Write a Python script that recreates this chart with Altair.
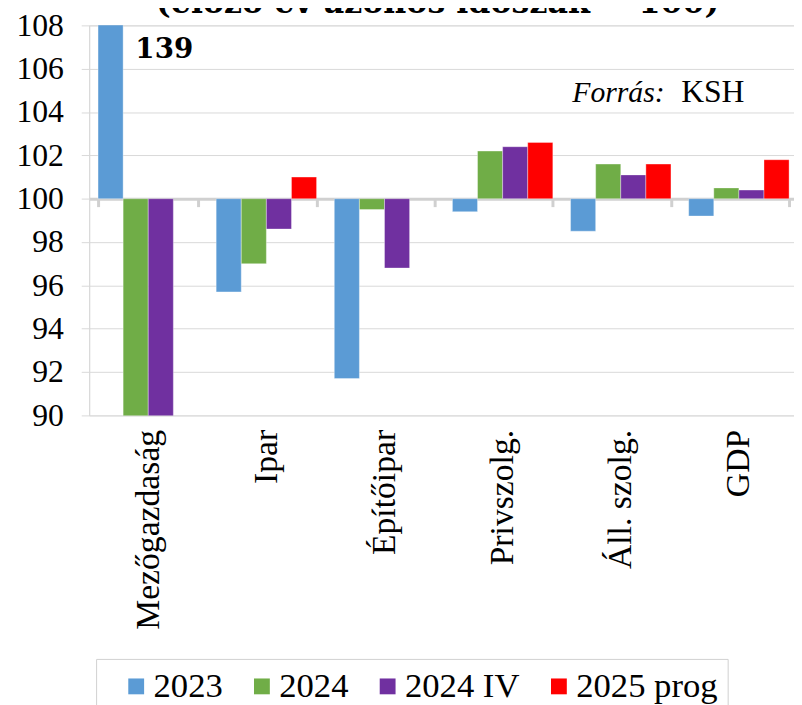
import altair as alt
import pandas as pd

categories = ["Mezőgazdaság", "Ipar", "Építőipar", "Privszolg.", "Áll. szolg.", "GDP"]
series = ["2023", "2024", "2024 IV", "2025 prog"]
v2023 = [139.0, 95.7, 91.7, 99.4, 98.5, 99.2]
v2024 = [88.0, 97.0, 99.5, 102.2, 101.6, 100.5]
v2024iv = [88.5, 98.6, 96.8, 102.4, 101.1, 100.4]
v2025 = [None, 101.0, None, 102.6, 101.6, 101.8]
colors = ["#5b9bd5", "#70ad47", "#7030a0", "#ff0000"]
y_ticks = [90, 92, 94, 96, 98, 100, 102, 104, 106, 108]

rows = []
for s, vals in zip(series, [v2023, v2024, v2024iv, v2025]):
    for c, v in zip(categories, vals):
        if v is not None:
            rows.append({"cat": c, "series": s, "value": v})
df = pd.DataFrame(rows)

SERIF = "Liberation Serif"

x_scale = alt.Scale(domain=categories, range=[0, 716], paddingInner=0.15, paddingOuter=0.075)
y_scale = alt.Scale(domain=[90, 108], nice=False, zero=False)

x_axis = alt.Axis(title=None, orient="bottom", offset=-218.9,
                  domainColor="#d0d0d0", domainWidth=3,
                  tickColor="#d0d0d0", tickWidth=3, tickSize=8,
                  tickBand="extent",
                  labelAngle=270, labelAlign="right", labelBaseline="middle",
                  labelPadding=225, labelLimit=0,
                  labelFont=SERIF, labelFontSize=34, labelColor="black")
y_axis = alt.Axis(title=None, values=y_ticks, grid=True, labelPadding=18,
                  labelFont=SERIF, labelFontSize=32, labelColor="black",
                  gridColor="#d9d9d9", domainColor="#d9d9d9", tickColor="#d9d9d9",
                  tickSize=8)

bars = alt.Chart(df).mark_bar(clip=True, stroke="white", strokeWidth=0.6, strokeOpacity=0.6).encode(
    x=alt.X("cat:N", sort=categories, scale=x_scale, axis=x_axis),
    xOffset=alt.XOffset("series:N", sort=series,
                        scale=alt.Scale(domain=series, paddingInner=0, paddingOuter=0)),
    y=alt.Y("value:Q", scale=y_scale, axis=y_axis),
    y2=alt.datum(100),
    color=alt.Color("series:N", sort=series,
                    scale=alt.Scale(domain=series, range=colors),
                    legend=alt.Legend(title=" ", titleOrient="left", titleFontSize=1,
                                      titlePadding=13,
                                      orient="none", legendX=7, legendY=640,
                                      direction="horizontal", symbolType="square",
                                      symbolSize=256, symbolStrokeWidth=0,
                                      labelOffset=0,
                                      labelFont=SERIF, labelFontSize=35,
                                      labelColor="black",
                                      columnPadding=22, padding=10,
                                      strokeColor="#d0d0d0", fillColor="white",
                                      labelLimit=0)),
)

ann_df = pd.DataFrame({"cat": ["Mezőgazdaság"], "value": [106.5], "label": ["139"]})
ann = alt.Chart(ann_df).mark_text(align="left", baseline="alphabetic", dx=-13,
                                  font="DejaVu Serif", fontWeight="bold", fontSize=28,
                                  color="black").encode(
    x=alt.X("cat:N", sort=categories, scale=x_scale, axis=x_axis),
    y=alt.Y("value:Q", scale=y_scale, axis=y_axis),
    text="label:N",
)

src1 = alt.Chart(pd.DataFrame({"t": ["Forrás:"]})).mark_text(
    align="left", baseline="alphabetic", font=SERIF, fontStyle="italic",
    fontSize=30, color="black").encode(x=alt.value(488), y=alt.value(77), text="t:N")
src2 = alt.Chart(pd.DataFrame({"t": ["KSH"]})).mark_text(
    align="left", baseline="alphabetic", font=SERIF,
    fontSize=32, color="black").encode(x=alt.value(598), y=alt.value(77), text="t:N")

title = alt.Chart(pd.DataFrame({"t": ["(előző év azonos időszak = 100)"]})).mark_text(
    align="center", baseline="alphabetic", font="DejaVu Serif", fontWeight="bold",
    fontSize=32, color="black").encode(x=alt.value(352), y=alt.value(-13), text="t:N")

chart = alt.layer(bars, ann, src1, src2, title).properties(
    width=712, height=394,
    autosize=alt.AutoSizeParams(type="none"),
    padding={"left": 82, "top": 14, "right": 0, "bottom": 289},
).configure_view(stroke=None).configure(background="white")

chart.save("out.html", embed_options={"renderer": "svg", "actions": False})
